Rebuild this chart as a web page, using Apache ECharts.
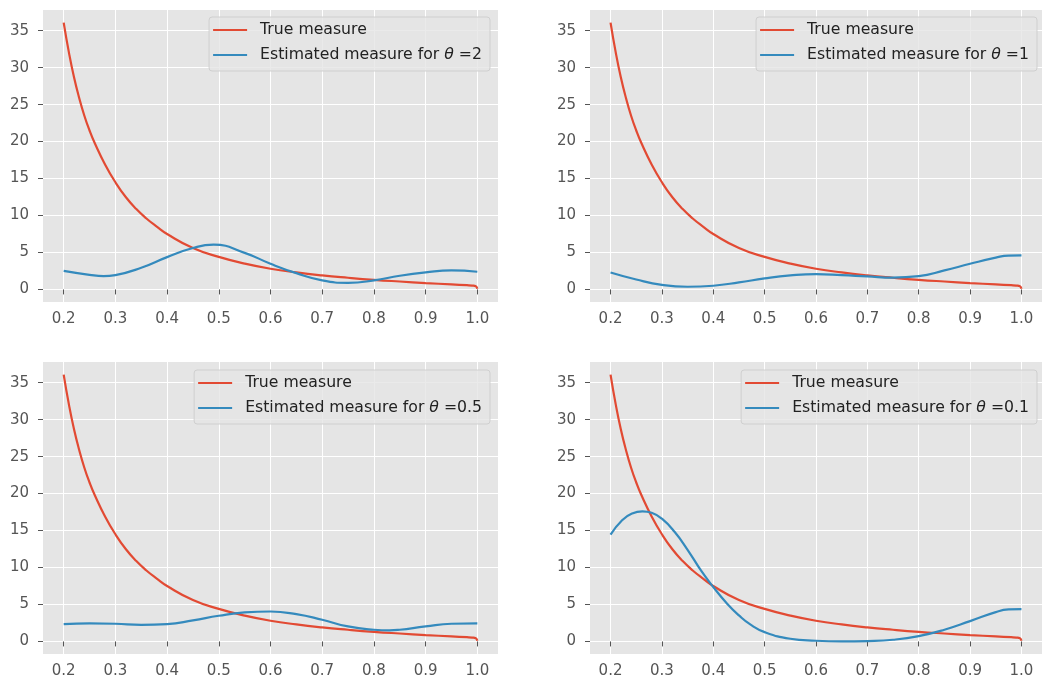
<!DOCTYPE html>
<html>
<head>
<meta charset="utf-8">
<script src="https://cdn.jsdelivr.net/npm/echarts@6/dist/echarts.min.js"></script>
<style>
html,body{margin:0;padding:0;background:#fff;}
#chart{width:1042px;height:684px;}
</style>
</head>
<body>
<div id="chart"></div>
<script>
// ---- Data ----
const xTicks = [0.2, 0.3, 0.4, 0.5, 0.6, 0.7, 0.8, 0.9, 1.0];
const yTicks = [0, 5, 10, 15, 20, 25, 30, 35];

const trueX = [0.2, 0.21, 0.22, 0.23, 0.24, 0.25, 0.26, 0.28, 0.30, 0.32, 0.34, 0.36, 0.38, 0.40, 0.45, 0.50, 0.55, 0.60, 0.65, 0.70, 0.75, 0.80, 0.85, 0.90, 0.95, 0.98, 0.99, 0.997, 1.0];
const trueY = [36.1, 32.1, 28.7, 25.9, 23.5, 21.5, 19.8, 16.9, 14.5, 12.5, 10.9, 9.6, 8.5, 7.5, 5.6, 4.4, 3.5, 2.8, 2.3, 1.9, 1.58, 1.3, 1.07, 0.86, 0.68, 0.57, 0.52, 0.42, 0.1];

const thetaLabels = ['2', '1', '0.5', '0.1'];

const est2X = [0.2, 0.25, 0.277, 0.3, 0.35, 0.4, 0.45, 0.49, 0.55, 0.6, 0.65, 0.7, 0.75, 0.8, 0.85, 0.9, 0.95, 1.0];
const est2Y = [2.52, 1.98, 1.8, 1.94, 2.93, 4.37, 5.6, 6.05, 4.95, 3.47, 2.2, 1.22, 0.9, 1.22, 1.85, 2.3, 2.57, 2.39];

const est1X = [0.2, 0.25, 0.3, 0.35, 0.4, 0.45, 0.5, 0.55, 0.6, 0.65, 0.7, 0.75, 0.8, 0.85, 0.9, 0.95, 0.975, 1.0];
const est1Y = [2.3, 1.35, 0.62, 0.36, 0.5, 0.95, 1.49, 1.89, 2.07, 1.94, 1.76, 1.6, 1.8, 2.57, 3.47, 4.3, 4.58, 4.6];

const est05X = [0.2, 0.25, 0.3, 0.35, 0.4, 0.45, 0.5, 0.55, 0.6, 0.65, 0.7, 0.75, 0.8, 0.83, 0.85, 0.9, 0.95, 1.0];
const est05Y = [2.34, 2.43, 2.39, 2.25, 2.34, 2.84, 3.47, 3.92, 4.05, 3.69, 2.93, 2.03, 1.58, 1.49, 1.58, 2.03, 2.39, 2.43];

const est01X = [0.2, 0.2225, 0.242, 0.262, 0.28, 0.3, 0.325, 0.35, 0.376, 0.4, 0.427, 0.45, 0.472, 0.5, 0.55, 0.6, 0.65, 0.7, 0.75, 0.8, 0.85, 0.9, 0.95, 0.975, 1.0];
const est01Y = [14.45, 16.4, 17.3, 17.6, 17.4, 16.6, 14.8, 12.4, 9.6, 7.36, 5.1, 3.52, 2.3, 1.26, 0.36, 0.09, 0.0, 0.05, 0.23, 0.72, 1.58, 2.75, 3.97, 4.33, 4.38];

const estX = [est2X, est1X, est05X, est01X];
const estY = [est2Y, est1Y, est05Y, est01Y];

// ---- Layout / style ----
const RED = '#E24A33', BLUE = '#348ABD';
const FONT = 'DejaVu Sans';
const LFS = 15.7;
const grids = [
  {left: 43, top: 10, width: 455, height: 292},
  {left: 590, top: 10, width: 455, height: 292},
  {left: 43, top: 362, width: 455, height: 292},
  {left: 590, top: 362, width: 455, height: 292}
];
const legendPos = [
  {right: 552, top: 17},
  {right: 5, top: 17},
  {right: 552, top: 370},
  {right: 5, top: 370}
];

function zip(xs, ys) { return xs.map((x, i) => [x, ys[i]]); }
const estName = t => 'Estimated measure for θ =' + t;

const txt = {fontFamily: FONT, fontSize: LFS, color: '#222222', lineHeight: 18};

const option = {
  animation: false,
  backgroundColor: '#ffffff',
  grid: grids.map(g => Object.assign({show: true, backgroundColor: '#E5E5E5', borderWidth: 0}, g)),
  xAxis: grids.map((g, i) => ({
    type: 'value', gridIndex: i, min: 0.16, max: 1.04,
    axisLine: {show: false},
    axisTick: {show: true, length: 5, lineStyle: {color: '#555555', width: 1}, customValues: xTicks},
    axisLabel: {customValues: xTicks, formatter: v => v.toFixed(1), color: '#555555', fontSize: 15, fontFamily: FONT, margin: 10},
    splitLine: {show: true, lineStyle: {color: '#ffffff', width: 1}}
  })),
  yAxis: grids.map((g, i) => ({
    type: 'value', gridIndex: i, min: -1.7, max: 37.8,
    axisLine: {show: false},
    axisTick: {show: true, length: 5, lineStyle: {color: '#555555', width: 1}, customValues: yTicks},
    axisLabel: {customValues: yTicks, formatter: v => String(v), color: '#555555', fontSize: 15, fontFamily: FONT, margin: 14},
    splitLine: {show: true, lineStyle: {color: '#ffffff', width: 1}}
  })),
  legend: legendPos.map((p, i) => Object.assign({
    orient: 'vertical',
    data: ['True measure', estName(thetaLabels[i])],
    selectedMode: false,
    icon: 'rect',
    itemWidth: 34, itemHeight: 2, itemGap: 7,
    padding: [4, 8, 7, 4],
    backgroundColor: 'rgba(229,229,229,0.8)',
    borderColor: 'rgba(204,204,204,0.9)', borderWidth: 1, borderRadius: 3,
    formatter: name => {
      if (name === 'True measure') return '{p|True measure}';
      const t = name.split('=')[1];
      return '{p|Estimated measure for }{i|θ}{n| =' + t + '}';
    },
    textStyle: Object.assign({}, txt, {
      rich: {
        p: Object.assign({}, txt, {padding: [0, 0, 0, 8]}),
        i: Object.assign({}, txt, {fontStyle: 'italic'}),
        n: Object.assign({}, txt)
      }
    })
  }, p)),
  series: []
};

for (let i = 0; i < 4; i++) {
  option.series.push({
    type: 'line', name: 'True measure', xAxisIndex: i, yAxisIndex: i,
    data: zip(trueX, trueY), symbol: 'none', smooth: 0.5,
    lineStyle: {color: RED, width: 2.2}, itemStyle: {color: RED}
  });
  option.series.push({
    type: 'line', name: estName(thetaLabels[i]), xAxisIndex: i, yAxisIndex: i,
    data: zip(estX[i], estY[i]), symbol: 'none', smooth: 0.5,
    lineStyle: {color: BLUE, width: 2.2}, itemStyle: {color: BLUE}
  });
}

const chart = echarts.init(document.getElementById('chart'), null, {renderer: 'canvas'});
chart.setOption(option);
</script>
</body>
</html>
